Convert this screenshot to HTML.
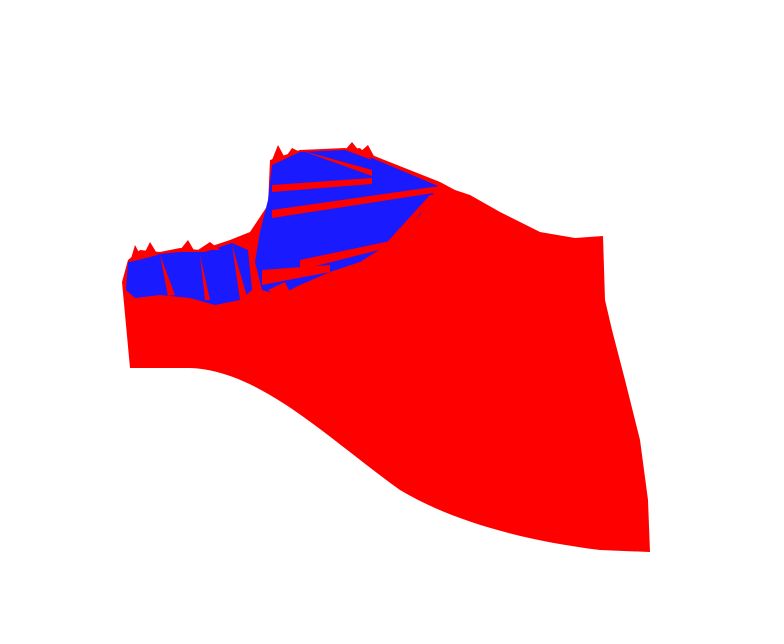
<!DOCTYPE html>
<html><head><meta charset="utf-8">
<style>html,body{margin:0;padding:0;background:#fff;width:784px;height:644px;overflow:hidden}</style>
</head><body>
<svg width="784" height="644" viewBox="0 0 784 644">
  <path fill="#ff0000"
    d="M122,282 L128,260 L140,250 L160,252 L180,248 L200,250 L230,240 L250,232 L268,205 L270,160 L300,150 L345,148 L372,155 L440,182 L455,190 L470,195 L500,212 L540,232 L575,238 L603,236 L605,300 L612,330 L625,380 L640,440 L648,500 L650,552 L600,550 C520,540 450,520 400,490 C330,440 260,370 190,368 L130,368 Z"/>
  <polygon fill="#1a1aff"
    points="272,165 300,152 345,150 372,158 438,186 420,215 395,240 360,262 330,272 300,285 280,295 262,290 255,262 260,232 268,200"/>
  <polygon fill="#1a1aff"
    points="128,262 150,255 180,252 205,252 232,243 248,250 252,290 240,300 215,305 190,298 160,295 135,298 126,290"/>
  <g fill="#ff0000">
    <polygon points="272,185 372,178 372,184 272,192"/>
    <polygon points="272,210 440,186 440,192 272,218"/>
    <polygon points="300,150 372,170 372,176"/>
    <polygon points="345,150 360,148 372,160"/>
    <polygon points="200,255 210,300 205,300"/>
    <polygon points="160,255 175,295 168,296"/>
    <polygon points="232,245 248,300 240,300"/>
    <polygon points="262,270 330,265 330,272 262,285"/>
    <polygon points="300,260 395,240 395,246 300,270"/>
    <polygon points="380,250 430,195 436,195 388,252"/>
    <polygon points="268,290 285,282 290,292 275,296"/>
  </g>
  <g fill="#ff0000">
    <polygon points="272,160 278,145 285,158 292,148 300,152"/>
    <polygon points="345,150 352,142 360,152 368,145 375,158"/>
    <polygon points="130,262 135,245 142,258 150,242 158,255"/>
    <polygon points="180,250 188,240 195,252 210,242 220,250"/>
  </g>
</svg>
</body></html>
